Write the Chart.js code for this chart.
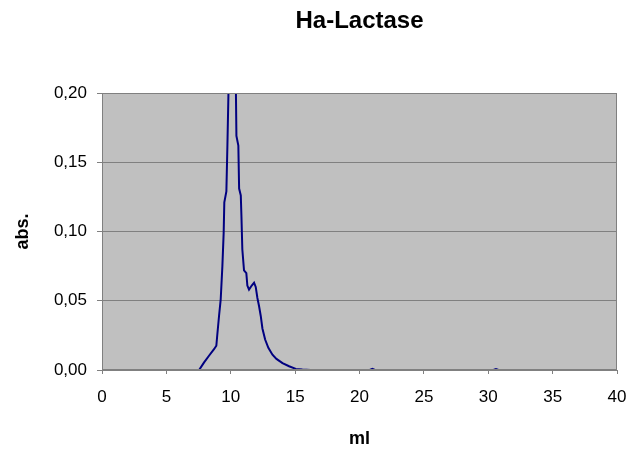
<!DOCTYPE html>
<html>
<head>
<meta charset="utf-8">
<title>Ha-Lactase</title>
<script src="https://cdn.jsdelivr.net/npm/chart.js@4/dist/chart.umd.min.js"></script>
<style>
    html, body { margin: 0; padding: 0; background: #ffffff; }
    #wrap { width: 630px; height: 450px; }
</style>
</head>
<body>
<div id="wrap"><canvas id="lactaseChart" width="630" height="450"></canvas></div>
<script>
// volumen eluido (ml) y absorbancia
const mlValues = [7.54, 7.93, 8.31, 8.70, 8.88, 8.96, 9.09, 9.22, 9.35, 9.45, 9.50, 9.66, 9.74, 9.82,
    9.88, 10.10, 10.34, 10.39, 10.44, 10.59, 10.65, 10.78, 10.83, 10.90, 11.03, 11.21, 11.29, 11.42,
    11.63, 11.81, 11.94, 12.07, 12.20, 12.33, 12.46, 12.67, 12.92, 13.24, 13.55, 14.02, 14.53, 15.05,
    15.56, 16.20, 16.30, 20.80, 21.00, 21.20, 21.30, 30.40, 30.60, 30.80];
const absValues = [0, 0.0055, 0.0103, 0.015, 0.0175, 0.026, 0.039, 0.051, 0.075, 0.099, 0.121, 0.129, 0.162, 0.199,
    0.30, 0.40, 0.30, 0.21, 0.169, 0.162, 0.131, 0.126, 0.111, 0.087, 0.072, 0.070, 0.061, 0.058,
    0.061, 0.063, 0.060, 0.052, 0.046, 0.039, 0.030, 0.022, 0.016, 0.011, 0.008, 0.005, 0.0027, 0.0008,
    0.0003, 0, null, 0, 0.0008, 0, null, 0, 0.0006, 0];

const xTickLabels = ['0', '5', '10', '15', '20', '25', '30', '35', '40'];
const yTickLabels = ['0,00', '0,05', '0,10', '0,15', '0,20'];

const FONT = "'Liberation Sans', Arial, sans-serif";

// fondo gris y marco del area de datos
const plotFrame = {
    id: 'plotFrame',
    beforeDraw(chart) {
        const { ctx, chartArea: a } = chart;
        ctx.save();
        ctx.fillStyle = '#c0c0c0';
        ctx.fillRect(a.left, a.top, a.right - a.left, a.bottom - a.top);
        ctx.restore();
    },
    afterDatasetsDraw(chart) {
        const { ctx, chartArea: a } = chart;
        ctx.save();
        ctx.strokeStyle = '#808080';
        ctx.lineWidth = 1;
        ctx.strokeRect(a.left + 0.5, a.top + 0.5, a.right - a.left - 1, a.bottom - a.top - 1);
        ctx.restore();
    }
};

const points = mlValues.map((x, i) => ({ x: x, y: absValues[i] }));

new Chart(document.getElementById('lactaseChart'), {
    type: 'line',
    data: {
        datasets: [{
            label: 'abs.',
            data: points,
            borderColor: '#000080',
            borderWidth: 2,
            pointRadius: 0,
            fill: false,
            tension: 0,
            spanGaps: false
        }]
    },
    options: {
        responsive: false,
        animation: false,
        layout: { padding: { left: 0, right: 13, top: 0, bottom: 0 } },
        plugins: {
            legend: { display: false },
            tooltip: { enabled: false },
            title: {
                display: true,
                text: 'Ha-Lactase',
                fullSize: false,
                color: '#000000',
                font: { family: FONT, size: 24, weight: 'bold' },
                padding: { top: 7, bottom: 57.2 }
            }
        },
        scales: {
            x: {
                type: 'linear',
                min: 0,
                max: 40,
                afterFit(scale) { scale.height = 80; },
                border: { color: '#808080', width: 1 },
                grid: { drawOnChartArea: false, drawTicks: true, tickLength: 4, color: '#808080' },
                ticks: {
                    stepSize: 5,
                    padding: 0,
                    color: '#000000',
                    maxRotation: 0,
                    // lineHeight grande para bajar las etiquetas sin agrandar el padding lateral
                    font: { family: FONT, size: 17, lineHeight: 2.8 },
                    callback: (v) => xTickLabels[Math.round(v / 5)]
                },
                title: {
                    display: true,
                    text: 'ml',
                    color: '#000000',
                    font: { family: FONT, size: 18, weight: 'bold' },
                    padding: { top: 0, bottom: 0 }
                }
            },
            y: {
                min: 0,
                max: 0.2,
                afterFit(scale) { scale.width = 102; },
                border: { color: '#808080', width: 1 },
                grid: { color: '#808080', tickLength: 5, drawTicks: true },
                ticks: {
                    stepSize: 0.05,
                    padding: 10,
                    color: '#000000',
                    font: { family: FONT, size: 17 },
                    callback: (v) => yTickLabels[Math.round(v / 0.05)]
                },
                title: {
                    display: true,
                    text: 'abs.',
                    color: '#000000',
                    font: { family: FONT, size: 18, weight: 'bold' },
                    padding: { top: 12, bottom: 0 }
                }
            }
        }
    },
    plugins: [plotFrame]
});
</script>
</body>
</html>
